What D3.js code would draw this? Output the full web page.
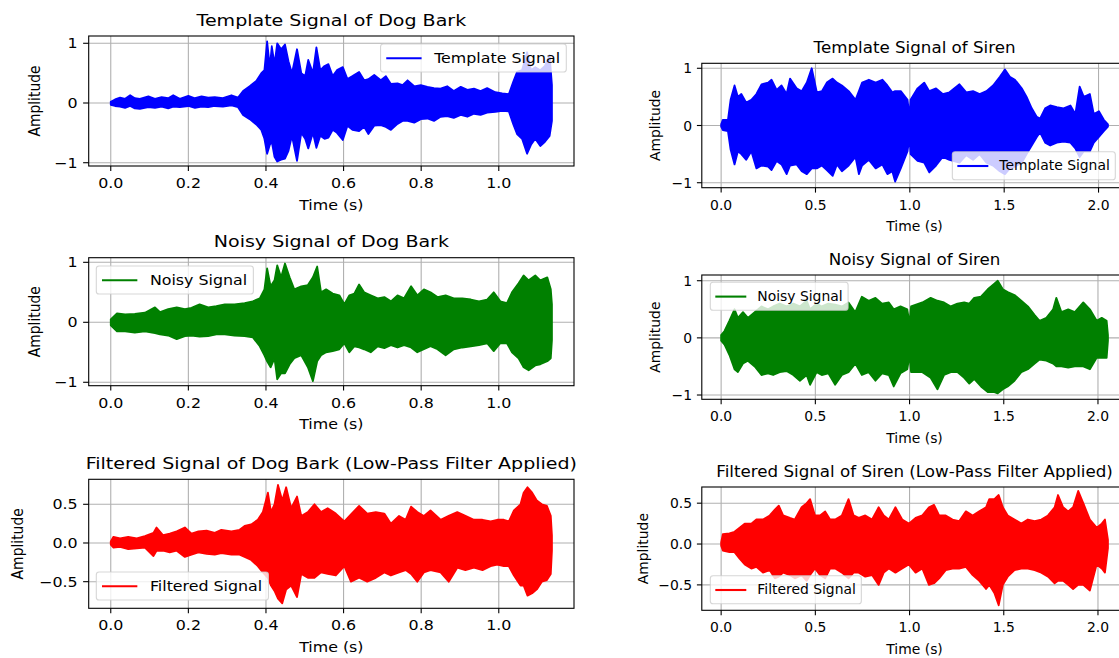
<!DOCTYPE html>
<html>
<head>
<meta charset="utf-8">
<script src="https://cdn.jsdelivr.net/npm/d3@7"></script>
<style>
body { margin: 0; background: #fff; }
svg { display: block; font-family: "DejaVu Sans", sans-serif; }
</style>
</head>
<body>
<svg id="chart" width="1119" height="658"></svg>
<script>
// envelopes: time (s), upper and lower amplitude
const dogTemplateTime = [0,.011,.024,.037,.05,.062,.075,.097,.114,.131,.148,.161,.178,.2,.217,.234,.251,.268,.289,.311,.328,.341,.358,.375,.388,.396,.403,.41,.415,.422,.429,.439,.449,.458,.467,.48,.491,.501,.509,.521,.53,.54,.551,.561,.572,.583,.598,.61,.623,.64,.653,.664,.679,.696,.709,.722,.739,.752,.765,.782,.799,.816,.833,.85,.867,.884,.902,.919,.936,.953,.97,.991,1.009,1.026,1.037,1.047,1.06,1.073,1.083,1.094,1.107,1.119,1.131,1.137];
const dogTemplateUpper = [.02,.06,.09,.07,.13,.08,.07,.11,.07,.1,.08,.13,.07,.12,.08,.11,.09,.1,.08,.13,.09,.2,.28,.37,.5,.55,1.03,.6,.95,.65,1.0,.9,.98,.7,.5,.9,.5,.45,.72,.5,.93,.55,.62,.65,.45,.55,.6,.4,.45,.52,.38,.4,.47,.38,.45,.32,.33,.3,.38,.28,.3,.27,.25,.24,.28,.2,.27,.22,.24,.2,.25,.18,.16,.15,.35,.52,.55,.85,.55,.6,.55,.62,.8,.3];
const dogTemplateLower = [-.03,-.05,-.06,-.08,-.05,-.09,-.1,-.07,-.08,-.06,-.09,-.06,-.07,-.05,-.08,-.06,-.07,-.05,-.06,-.04,-.07,-.2,-.27,-.36,-.45,-.6,-.85,-.7,-.65,-.9,-.98,-.95,-.93,-.8,-.55,-.97,-.5,-.6,-.76,-.5,-.75,-.55,-.6,-.58,-.45,-.5,-.62,-.38,-.45,-.47,-.4,-.52,-.38,-.37,-.4,-.45,-.35,-.3,-.3,-.33,-.27,-.26,-.3,-.23,-.22,-.25,-.2,-.23,-.18,-.2,-.16,-.15,-.13,-.14,-.35,-.52,-.6,-.85,-.7,-.6,-.72,-.65,-.55,-.3];

const sirenTemplateTime = [0,.009,.036,.05,.071,.089,.107,.133,.16,.187,.214,.249,.267,.294,.32,.347,.365,.4,.427,.454,.48,.507,.534,.56,.591,.614,.64,.676,.712,.73,.747,.783,.819,.854,.881,.907,.922,.952,.988,.998,1.004,1.041,1.076,1.103,1.139,1.174,1.21,1.263,1.299,1.335,1.37,1.406,1.441,1.477,1.504,1.53,1.557,1.593,1.619,1.646,1.673,1.69,1.717,1.744,1.779,1.815,1.851,1.877,1.9,1.922,1.954,1.975,2.002,2.028,2.05];
const sirenTemplateUpper = [.02,.1,.1,.45,.7,.5,.55,.4,.45,.55,.72,.75,.8,.62,.7,.55,.82,.65,.6,.75,1.0,.58,.6,.75,.82,.75,.7,.6,.45,.6,.75,.8,.75,.8,.7,.58,.6,.6,.45,.15,.45,.65,.75,.6,.65,.55,.58,.72,.58,.6,.55,.6,.7,.85,.98,.85,.8,.65,.5,.3,.15,.12,.3,.35,.32,.3,.35,.2,.68,.5,.55,.2,.25,.1,.02];
const sirenTemplateLower = [-.02,-.08,-.1,-.42,-.68,-.45,-.5,-.6,-.45,-.75,-.7,-.72,-.78,-.62,-.68,-.85,-.7,-.68,-.8,-.85,-.75,-.75,-.7,-.78,-.88,-.68,-.8,-.7,-.55,-.85,-.7,-.6,-.75,-.68,-.85,-.8,-.98,-.75,-.45,-.2,-.5,-.62,-.65,-.82,-.7,-.55,-.6,-.65,-.52,-.6,-.5,-.65,-.7,-.8,-.85,-.75,-.72,-.65,-.5,-.35,-.2,-.12,-.3,-.35,-.3,-.28,-.3,-.4,-.55,-.45,-.45,-.3,-.2,-.1,-.02];

const dogNoisyTime = [0,.016,.037,.062,.088,.114,.127,.148,.17,.191,.208,.229,.251,.272,.294,.319,.345,.366,.384,.396,.403,.412,.422,.429,.439,.449,.461,.473,.491,.508,.521,.532,.542,.555,.572,.589,.602,.615,.628,.64,.653,.67,.688,.705,.722,.739,.756,.774,.79,.807,.824,.842,.863,.884,.906,.928,.949,.97,.987,1.004,1.021,1.034,1.051,1.064,1.077,1.094,1.107,1.125,1.134,1.137];
const dogNoisyUpper = [.05,.15,.13,.14,.16,.25,.17,.22,.25,.22,.24,.3,.25,.27,.3,.3,.32,.35,.4,.55,.9,.6,.7,.95,.75,.98,.75,.55,.6,.62,.75,.93,.5,.55,.48,.45,.3,.45,.48,.63,.5,.45,.4,.42,.35,.45,.4,.6,.45,.55,.5,.42,.45,.4,.4,.38,.35,.38,.5,.35,.32,.5,.65,.78,.7,.78,.7,.75,.55,.3];
const dogNoisyLower = [-.05,-.15,-.15,-.17,-.15,-.18,-.2,-.22,-.28,-.23,-.22,-.24,-.23,-.2,-.2,-.22,-.23,-.25,-.4,-.55,-.65,-.75,-.6,-.95,-.85,-.85,-.7,-.6,-.55,-.75,-.98,-.65,-.55,-.5,-.48,-.45,-.35,-.5,-.4,-.42,-.45,-.5,-.4,-.43,-.38,-.42,-.38,-.42,-.5,-.45,-.4,-.45,-.55,-.45,-.42,-.4,-.38,-.35,-.48,-.35,-.35,-.5,-.6,-.75,-.8,-.72,-.7,-.65,-.6,-.3];

const sirenNoisyTime = [0,.018,.044,.071,.089,.116,.142,.178,.214,.249,.276,.311,.347,.383,.418,.454,.472,.507,.534,.569,.605,.641,.676,.712,.747,.783,.819,.854,.89,.916,.952,.988,1.0,1.008,1.068,1.112,1.148,1.183,1.219,1.254,1.29,1.317,1.343,1.379,1.415,1.45,1.468,1.495,1.521,1.557,1.593,1.628,1.664,1.69,1.726,1.762,1.779,1.806,1.842,1.877,1.922,1.957,1.993,2.02,2.046,2.053];
const sirenNoisyUpper = [.05,.12,.3,.5,.35,.45,.35,.45,.55,.5,.55,.6,.55,.6,.55,.65,.5,.6,.55,.6,.58,.55,.62,.45,.72,.65,.7,.6,.62,.5,.55,.5,.25,.55,.62,.7,.65,.62,.55,.6,.62,.6,.7,.72,.85,.95,1.0,.85,.8,.75,.65,.55,.4,.3,.35,.5,.7,.45,.5,.45,.62,.5,.3,.35,.3,.05];
const sirenNoisyLower = [-.05,-.12,-.3,-.55,-.6,-.45,-.4,-.5,-.65,-.62,-.65,-.6,-.58,-.65,-.75,-.65,-.82,-.6,-.65,-.62,-.82,-.65,-.6,-.45,-.65,-.6,-.75,-.62,-.65,-.85,-.62,-.55,-.3,-.6,-.6,-.7,-.9,-.65,-.6,-.6,-.7,-.8,-.72,-.85,-.95,-.95,-.97,-.9,-.85,-.75,-.6,-.55,-.45,-.38,-.4,-.45,-.5,-.5,-.52,-.5,-.5,-.55,-.35,-.35,-.35,-.05];

const dogFilteredTime = [0,.007,.024,.045,.067,.088,.11,.118,.135,.152,.17,.191,.208,.226,.247,.268,.285,.311,.332,.345,.362,.379,.392,.405,.413,.422,.431,.442,.452,.465,.48,.491,.508,.525,.542,.559,.58,.602,.619,.64,.661,.683,.705,.722,.743,.76,.774,.79,.807,.824,.85,.871,.893,.914,.936,.958,.979,.996,1.013,1.026,1.039,1.056,1.064,1.074,1.086,1.098,1.111,1.124,1.134,1.137];
const dogFilteredUpper = [.02,.08,.06,.08,.06,.09,.13,.2,.1,.12,.15,.2,.12,.15,.16,.13,.17,.15,.17,.22,.24,.3,.4,.65,.4,.5,.75,.55,.72,.45,.6,.35,.4,.5,.4,.45,.38,.28,.37,.48,.38,.4,.38,.25,.35,.3,.47,.4,.35,.42,.3,.35,.4,.35,.3,.3,.28,.3,.3,.28,.42,.5,.65,.72,.65,.55,.5,.48,.35,.1];
const dogFilteredLower = [-.02,-.06,-.05,-.08,-.07,-.06,-.17,-.1,-.1,-.12,-.1,-.18,-.15,-.12,-.14,-.15,-.13,-.15,-.15,-.18,-.22,-.3,-.38,-.45,-.55,-.62,-.72,-.78,-.6,-.55,-.7,-.4,-.45,-.45,-.38,-.4,-.42,-.3,-.5,-.45,-.5,-.45,-.38,-.42,-.38,-.35,-.4,-.5,-.38,-.35,-.38,-.5,-.32,-.35,-.32,-.35,-.3,-.28,-.3,-.3,-.42,-.55,-.55,-.68,-.65,-.6,-.5,-.48,-.4,-.1];

const sirenFilteredTime = [0,.009,.044,.071,.098,.125,.16,.187,.222,.258,.285,.306,.329,.365,.391,.427,.454,.472,.498,.525,.552,.578,.605,.641,.676,.703,.73,.765,.801,.836,.863,.89,.925,.961,.996,1.032,1.068,1.103,1.13,1.157,1.192,1.228,1.263,1.299,1.335,1.37,1.406,1.423,1.45,1.473,1.495,1.521,1.557,1.593,1.628,1.664,1.699,1.735,1.77,1.788,1.815,1.842,1.868,1.895,1.922,1.957,1.993,2.02,2.037,2.053];
const sirenFilteredUpper = [.02,.12,.13,.15,.2,.25,.25,.3,.3,.35,.42,.47,.35,.32,.3,.45,.5,.55,.35,.35,.4,.3,.3,.35,.55,.35,.32,.35,.3,.45,.35,.3,.45,.3,.25,.32,.35,.45,.48,.35,.35,.3,.28,.4,.35,.4,.45,.55,.55,.6,.45,.35,.3,.25,.3,.28,.3,.35,.45,.6,.45,.4,.45,.65,.5,.3,.2,.25,.3,.05];
const sirenFilteredLower = [-.02,-.08,-.1,-.1,-.18,-.25,-.3,-.28,-.35,-.32,-.42,-.4,-.35,-.38,-.42,-.38,-.45,-.38,-.3,-.38,-.42,-.3,-.3,-.35,-.42,-.35,-.35,-.4,-.38,-.5,-.35,-.3,-.35,-.3,-.25,-.35,-.3,-.5,-.48,-.42,-.32,-.3,-.3,-.28,-.38,-.45,-.55,-.5,-.6,-.75,-.5,-.4,-.32,-.3,-.3,-.32,-.35,-.4,-.48,-.45,-.45,-.5,-.55,-.5,-.5,-.57,-.25,-.3,-.35,-.05];

const amplitudeTicks = [-1, 0, 1];
const filteredTicks = [-0.5, 0, 0.5];
const dogTimeTicks = [0, 0.2, 0.4, 0.6, 0.8, 1.0];
const sirenTimeTicks = [0, 0.5, 1.0, 1.5, 2.0];

// the left column of the picture is stretched sideways
const columns = {
    L: { x0: 88.7, x1: 574, sx: 1.14 },
    R: { x0: 701.8, x1: 1127.3, sx: 1 },
};

const panels = [
    { title: 'Template Signal of Dog Bark', name: 'Template Signal', color: '#0000ff',
      t: dogTemplateTime, hi: dogTemplateUpper, lo: dogTemplateLower,
      col: 'L', top: 36, bottom: 166, yDom: [-1.055, 1.122], yTicks: amplitudeTicks, yFmt: 'd', xTicks: dogTimeTicks,
      legend: { x: 566.3, y: 44, right: true }, ylabelX: 35.7 },
    { title: 'Template Signal of Siren', name: 'Template Signal', color: '#0000ff',
      t: sirenTemplateTime, hi: sirenTemplateUpper, lo: sirenTemplateLower,
      col: 'R', top: 63.3, bottom: 187.7, yDom: [-1.087, 1.087], yTicks: amplitudeTicks, yFmt: 'd', xTicks: sirenTimeTicks,
      legend: { x: 1115.3, y: 151.7, right: true }, ylabelX: 656 },
    { title: 'Noisy Signal of Dog Bark', name: 'Noisy Signal', color: '#008000',
      t: dogNoisyTime, hi: dogNoisyUpper, lo: dogNoisyLower,
      col: 'L', top: 257.7, bottom: 385.7, yDom: [-1.057, 1.077], yTicks: amplitudeTicks, yFmt: 'd', xTicks: dogTimeTicks,
      legend: { x: 96.3, y: 266 }, ylabelX: 35.7 },
    { title: 'Noisy Signal of Siren', name: 'Noisy Signal', color: '#008000',
      t: sirenNoisyTime, hi: sirenNoisyUpper, lo: sirenNoisyLower,
      col: 'R', top: 275, bottom: 399.3, yDom: [-1.075, 1.1], yTicks: amplitudeTicks, yFmt: 'd', xTicks: sirenTimeTicks,
      legend: { x: 710.3, y: 282.3 }, ylabelX: 656 },
    { title: 'Filtered Signal of Dog Bark (Low-Pass Filter Applied)', name: 'Filtered Signal', color: '#ff0000',
      t: dogFilteredTime, hi: dogFilteredUpper, lo: dogFilteredLower,
      col: 'L', top: 479.3, bottom: 608.3, yDom: [-0.844, 0.823], yTicks: filteredTicks, yFmt: '.1f', xTicks: dogTimeTicks,
      legend: { x: 96.3, y: 572 }, ylabelX: 18.8 },
    { title: 'Filtered Signal of Siren (Low-Pass Filter Applied)', name: 'Filtered Signal', color: '#ff0000',
      t: sirenFilteredTime, hi: sirenFilteredUpper, lo: sirenFilteredLower,
      col: 'R', top: 487, bottom: 610.3, yDom: [-0.811, 0.698], yTicks: filteredTicks, yFmt: '.1f', xTicks: sirenTimeTicks,
      legend: { x: 710.3, y: 575.7 }, ylabelX: 644 },
];

const svg = d3.select('#chart');
const FS = 13.9, TFS = 16.7;

function addText(g, x, y, str, o) {
    return g.append('text')
        .attr('transform', `translate(${x},${y}) scale(${o.sx},1)` + (o.rotate ? ' rotate(-90)' : ''))
        .attr('text-anchor', o.anchor || 'start')
        .style('font-size', (o.size || FS) + 'px')
        .attr('fill', '#000')
        .text(str);
}

panels.forEach(function (p, i) {
    const c = columns[p.col];
    const sx = c.sx;
    const tmax = d3.max(p.t);
    const x = d3.scaleLinear().domain([-0.05 * tmax, 1.05 * tmax]).range([c.x0, c.x1]);
    const y = d3.scaleLinear().domain(p.yDom).range([p.bottom, p.top]);
    const g = svg.append('g');

    const clipId = 'clip' + i;
    svg.append('clipPath').attr('id', clipId).append('rect')
        .attr('x', c.x0).attr('y', p.top).attr('width', c.x1 - c.x0).attr('height', p.bottom - p.top);

    // grid
    g.selectAll('.gx').data(p.xTicks).enter().append('line')
        .attr('x1', (d) => x(d)).attr('x2', (d) => x(d))
        .attr('y1', p.top).attr('y2', p.bottom)
        .attr('stroke', '#b0b0b0').attr('stroke-width', 1.1);
    g.selectAll('.gy').data(p.yTicks).enter().append('line')
        .attr('x1', c.x0).attr('x2', c.x1)
        .attr('y1', (d) => y(d)).attr('y2', (d) => y(d))
        .attr('stroke', '#b0b0b0').attr('stroke-width', 1.1);

    // signal envelope
    const area = d3.area()
        .x((d, k) => x(p.t[k]))
        .y0((d, k) => y(p.lo[k]))
        .y1((d, k) => y(p.hi[k]));
    g.append('path')
        .datum(p.t)
        .attr('clip-path', `url(#${clipId})`)
        .attr('d', area)
        .attr('fill', p.color)
        .attr('stroke', p.color)
        .attr('stroke-width', 1.8)
        .attr('stroke-linejoin', 'round');

    // spines
    g.append('rect')
        .attr('x', c.x0).attr('y', p.top)
        .attr('width', c.x1 - c.x0).attr('height', p.bottom - p.top)
        .attr('fill', 'none').attr('stroke', '#000').attr('stroke-width', 1.1);

    // x ticks
    const fx = d3.format('.1f');
    p.xTicks.forEach(function (d) {
        g.append('line').attr('x1', x(d)).attr('x2', x(d))
            .attr('y1', p.bottom).attr('y2', p.bottom + 4.9)
            .attr('stroke', '#000').attr('stroke-width', 1.1);
        addText(g, x(d), p.bottom + 22, fx(d), { sx: sx, anchor: 'middle' });
    });
    // y ticks
    const fy = d3.format(p.yFmt);
    p.yTicks.forEach(function (d) {
        g.append('line').attr('x1', c.x0 - 4.9 * sx).attr('x2', c.x0)
            .attr('y1', y(d)).attr('y2', y(d))
            .attr('stroke', '#000').attr('stroke-width', 1.1);
        addText(g, c.x0 - 9.7 * sx, y(d) + 5, fy(d), { sx: sx, anchor: 'end' });
    });

    const cx = (c.x0 + c.x1) / 2;
    addText(g, cx, p.top - 10.5, p.title, { sx: sx, anchor: 'middle', size: TFS });
    addText(g, cx, p.bottom + 43.5, 'Time (s)', { sx: sx, anchor: 'middle' });
    addText(g, p.ylabelX + 0.26 * FS * sx, (p.top + p.bottom) / 2, 'Amplitude', { sx: sx, anchor: 'middle', rotate: true });

    // legend
    const lg = svg.append('g');
    const box = lg.append('rect');
    const label = addText(lg, 0, 0, p.name, { sx: sx });
    const w = (47 + label.node().getComputedTextLength() + 5.5) * sx;
    const bx = p.legend.right ? p.legend.x - w : p.legend.x;
    const by = p.legend.y;
    box.attr('x', bx).attr('y', by).attr('width', w).attr('height', 28)
        .attr('rx', 2.8)
        .attr('fill', '#fff').attr('fill-opacity', 0.8)
        .attr('stroke', '#cccccc').attr('stroke-opacity', 0.8).attr('stroke-width', 1.1);
    lg.append('line')
        .attr('x1', bx + 5 * sx).attr('x2', bx + 36 * sx)
        .attr('y1', by + 14.3).attr('y2', by + 14.3)
        .attr('stroke', p.color).attr('stroke-width', 2.1);
    label.attr('transform', `translate(${bx + 47 * sx},${by + 18.7}) scale(${sx},1)`);
});
</script>
</body>
</html>
